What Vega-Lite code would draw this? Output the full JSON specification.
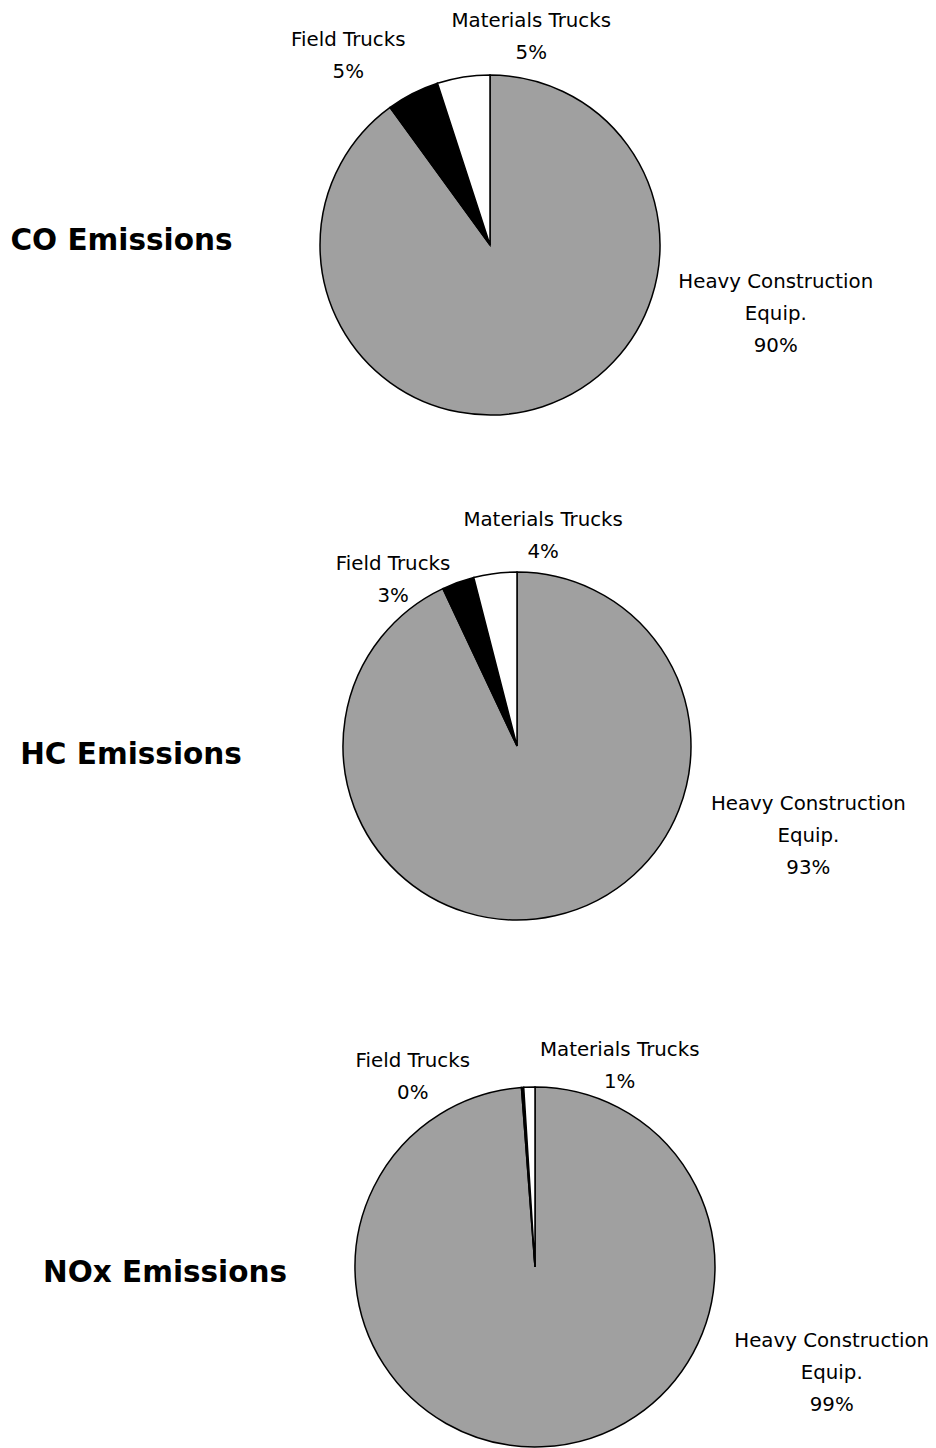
{
  "$schema": "https://vega.github.io/schema/vega-lite/v6.json",
  "padding": 0,
  "background": "white",
  "columns": 2,
  "spacing": 0,
  "bounds": "flush",
  "config": {"view": {"stroke": null}},
  "datasets": {
    "titles": [
      {"pollutant": "CO", "title": "CO Emissions"},
      {"pollutant": "HC", "title": "HC Emissions"},
      {"pollutant": "NOx", "title": "NOx Emissions"}
    ],
    "pies": [
      {"pollutant": "CO", "source": "Heavy Construction Equip.", "order": 1, "pct": 90, "label": "Heavy Construction\nEquip.\n90%"},
      {"pollutant": "CO", "source": "Field Trucks", "order": 2, "pct": 5, "label": "Field Trucks\n5%"},
      {"pollutant": "CO", "source": "Materials Trucks", "order": 3, "pct": 5, "label": "Materials Trucks\n5%"},
      {"pollutant": "HC", "source": "Heavy Construction Equip.", "order": 1, "pct": 93, "label": "Heavy Construction\nEquip.\n93%"},
      {"pollutant": "HC", "source": "Field Trucks", "order": 2, "pct": 3, "label": "Field Trucks\n3%"},
      {"pollutant": "HC", "source": "Materials Trucks", "order": 3, "pct": 4, "label": "Materials Trucks\n4%"},
      {"pollutant": "NOx", "source": "Heavy Construction Equip.", "order": 1, "pct": 98.8, "label": "Heavy Construction\nEquip.\n99%"},
      {"pollutant": "NOx", "source": "Field Trucks", "order": 2, "pct": 0.2, "label": "Field Trucks\n0%"},
      {"pollutant": "NOx", "source": "Materials Trucks", "order": 3, "pct": 1.0, "label": "Materials Trucks\n1%"}
    ]
  },
  "concat": [
    {
      "width": 243, "height": 490,
      "data": {"name": "titles"},
      "transform": [{"filter": {"field": "pollutant", "equal": "CO"}}],
      "mark": {"type": "text", "font": "DejaVu Sans", "fontWeight": "bold", "fontSize": 29.5, "fill": "black", "dy": -4},
      "encoding": {"text": {"field": "title"}}
    },
    {
      "width": 320, "height": 490,
      "data": {"name": "pies"},
      "transform": [
        {"filter": {"field": "pollutant", "equal": "CO"}},
        {"stack": "pct", "groupby": [], "sort": [{"field": "order", "order": "ascending"}], "as": ["s0", "s1"]}
      ],
      "encoding": {"theta": {"field": "s0", "type": "quantitative", "stack": null, "scale": {"domain": [0, 100]}}},
      "layer": [
        {
          "mark": {"type": "arc", "outerRadius": 170, "stroke": "black", "strokeWidth": 1.5},
          "encoding": {
            "theta2": {"field": "s1"},
            "color": {"field": "source", "type": "nominal", "legend": null,
              "scale": {"domain": ["Heavy Construction Equip.", "Field Trucks", "Materials Trucks"], "range": ["#a0a0a0", "#000000", "#ffffff"]}}
          }
        },
        {
          "transform": [{"filter": {"field": "source", "equal": "Heavy Construction Equip."}}],
          "mark": {"type": "text", "radius": 294, "thetaOffset": 1.808, "dy": -32, "font": "DejaVu Sans", "fontSize": 19.8, "lineHeight": 32, "lineBreak": "\n", "fill": "black", "align": "center", "baseline": "middle"},
          "encoding": {"text": {"field": "label"}}
        },
        {
          "transform": [{"filter": {"field": "source", "equal": "Field Trucks"}}],
          "mark": {"type": "text", "radius": 236, "thetaOffset": -0.016, "dy": -16, "font": "DejaVu Sans", "fontSize": 19.8, "lineHeight": 32, "lineBreak": "\n", "fill": "black", "align": "center", "baseline": "middle"},
          "encoding": {"text": {"field": "label"}}
        },
        {
          "transform": [{"filter": {"field": "source", "equal": "Materials Trucks"}}],
          "mark": {"type": "text", "radius": 212, "thetaOffset": 0.51, "dy": -16, "font": "DejaVu Sans", "fontSize": 19.8, "lineHeight": 32, "lineBreak": "\n", "fill": "black", "align": "center", "baseline": "middle"},
          "encoding": {"text": {"field": "label"}}
        }
      ]
    },
    {
      "width": 262, "height": 596,
      "data": {"name": "titles"},
      "transform": [{"filter": {"field": "pollutant", "equal": "HC"}}],
      "mark": {"type": "text", "font": "DejaVu Sans", "fontWeight": "bold", "fontSize": 29.5, "fill": "black", "dy": -33},
      "encoding": {"text": {"field": "title"}}
    },
    {
      "width": 374, "height": 512,
      "data": {"name": "pies"},
      "transform": [
        {"filter": {"field": "pollutant", "equal": "HC"}},
        {"stack": "pct", "groupby": [], "sort": [{"field": "order", "order": "ascending"}], "as": ["s0", "s1"]}
      ],
      "encoding": {"theta": {"field": "s0", "type": "quantitative", "stack": null, "scale": {"domain": [0, 100]}}},
      "layer": [
        {
          "mark": {"type": "arc", "outerRadius": 174, "stroke": "black", "strokeWidth": 1.5},
          "encoding": {
            "theta2": {"field": "s1"},
            "color": {"field": "source", "type": "nominal", "legend": null,
              "scale": {"domain": ["Heavy Construction Equip.", "Field Trucks", "Materials Trucks"], "range": ["#a0a0a0", "#000000", "#ffffff"]}}
          }
        },
        {
          "transform": [{"filter": {"field": "source", "equal": "Heavy Construction Equip."}}],
          "mark": {"type": "text", "radius": 305, "thetaOffset": 1.871, "dy": -32, "font": "DejaVu Sans", "fontSize": 19.8, "lineHeight": 32, "lineBreak": "\n", "fill": "black", "align": "center", "baseline": "middle"},
          "encoding": {"text": {"field": "label"}}
        },
        {
          "transform": [{"filter": {"field": "source", "equal": "Field Trucks"}}],
          "mark": {"type": "text", "radius": 207, "thetaOffset": -0.202, "dy": -16, "font": "DejaVu Sans", "fontSize": 19.8, "lineHeight": 32, "lineBreak": "\n", "fill": "black", "align": "center", "baseline": "middle"},
          "encoding": {"text": {"field": "label"}}
        },
        {
          "transform": [{"filter": {"field": "source", "equal": "Materials Trucks"}}],
          "mark": {"type": "text", "radius": 212, "thetaOffset": 0.375, "dy": -16, "font": "DejaVu Sans", "fontSize": 19.8, "lineHeight": 32, "lineBreak": "\n", "fill": "black", "align": "center", "baseline": "middle"},
          "encoding": {"text": {"field": "label"}}
        }
      ]
    },
    {
      "width": 330, "height": 362,
      "data": {"name": "titles"},
      "transform": [{"filter": {"field": "pollutant", "equal": "NOx"}}],
      "mark": {"type": "text", "font": "DejaVu Sans", "fontWeight": "bold", "fontSize": 29.5, "fill": "black", "dy": 6},
      "encoding": {"text": {"field": "title"}}
    },
    {
      "width": 410, "height": 362,
      "data": {"name": "pies"},
      "transform": [
        {"filter": {"field": "pollutant", "equal": "NOx"}},
        {"stack": "pct", "groupby": [], "sort": [{"field": "order", "order": "ascending"}], "as": ["s0", "s1"]}
      ],
      "encoding": {"theta": {"field": "s0", "type": "quantitative", "stack": null, "scale": {"domain": [0, 100]}}},
      "layer": [
        {
          "mark": {"type": "arc", "outerRadius": 180, "stroke": "black", "strokeWidth": 1.5},
          "encoding": {
            "theta2": {"field": "s1"},
            "color": {"field": "source", "type": "nominal", "legend": null,
              "scale": {"domain": ["Heavy Construction Equip.", "Field Trucks", "Materials Trucks"], "range": ["#a0a0a0", "#000000", "#ffffff"]}}
          }
        },
        {
          "transform": [{"filter": {"field": "source", "equal": "Heavy Construction Equip."}}],
          "mark": {"type": "text", "radius": 315, "thetaOffset": 1.913, "dy": -32, "font": "DejaVu Sans", "fontSize": 19.8, "lineHeight": 32, "lineBreak": "\n", "fill": "black", "align": "center", "baseline": "middle"},
          "encoding": {"text": {"field": "label"}}
        },
        {
          "transform": [{"filter": {"field": "source", "equal": "Field Trucks"}}],
          "mark": {"type": "text", "radius": 226, "thetaOffset": -0.496, "dy": -16, "font": "DejaVu Sans", "fontSize": 19.8, "lineHeight": 32, "lineBreak": "\n", "fill": "black", "align": "center", "baseline": "middle"},
          "encoding": {"text": {"field": "label"}}
        },
        {
          "transform": [{"filter": {"field": "source", "equal": "Materials Trucks"}}],
          "mark": {"type": "text", "radius": 218, "thetaOffset": 0.462, "dy": -16, "font": "DejaVu Sans", "fontSize": 19.8, "lineHeight": 32, "lineBreak": "\n", "fill": "black", "align": "center", "baseline": "middle"},
          "encoding": {"text": {"field": "label"}}
        }
      ]
    }
  ]
}
